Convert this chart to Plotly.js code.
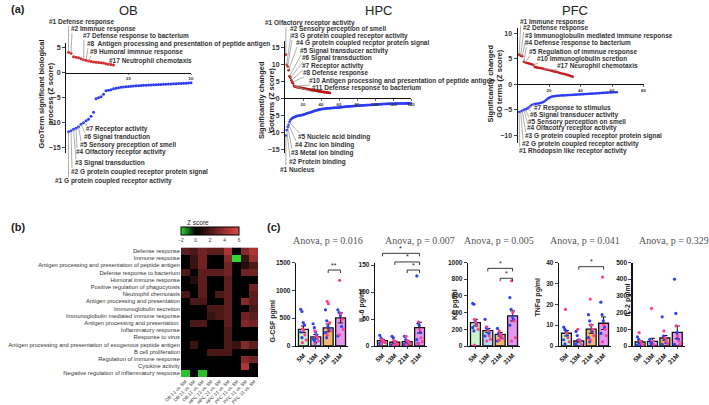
<!DOCTYPE html>
<html><head><meta charset="utf-8">
<script src="https://cdn.plot.ly/plotly-3.0.1.min.js"></script>
<style>body{margin:0;background:#fff}#plot{width:709px;height:405px}</style>
</head><body><div id="plot"></div>
<script>
const F = 'Liberation Sans, Arial, sans-serif';
const W = 709, H = 405;
const X = p => p / W, Y = p => 1 - p / H;

// ---------- Panel (a) data ----------
const obUp = [4.1, 3.9, 3.2, 3.1, 3.0, 2.8, 2.6, 2.5, 2.35, 2.25, 2.15, 2.1, 2.05, 2.0, 1.95, 1.8, 1.7, 1.65, 1.55];
const obDown = [-11.8, -11.6, -11.3, -11.1, -10.8, -10.3, -10.0, -9.6, -9.3, -8.7, -7.9, -5.2, -5.0, -4.8, -4.3, -3.6, -3.5, -3.4, -3.2, -3.1,
  -3.0, -2.9, -2.85, -2.8, -2.75, -2.7, -2.65, -2.6, -2.6, -2.55, -2.5, -2.5, -2.45, -2.45, -2.4, -2.4, -2.35, -2.35, -2.3, -2.3,
  -2.25, -2.25, -2.2, -2.2, -2.15, -2.15, -2.1, -2.1, -2.05, -2.0];
const hpcUp = [12.9, 9.9, 9.4, 8.3, 6.5, 6.1, 5.3, 4.7, 4.4, 3.6, 3.5, 3.4, 3.3, 3.25, 3.2, 3.15, 3.1, 3.05, 3.0, 2.95,
  2.9, 2.85, 2.8, 2.75, 2.7, 2.65, 2.6, 2.55, 2.5, 2.45, 2.4, 2.35, 2.3, 2.25, 2.2, 2.15, 2.1, 2.05, 2.0, 1.97,
  1.94, 1.9, 1.86, 1.82, 1.78, 1.74, 1.7, 1.66, 1.62, 1.58];
const hpcDown = [-11.0, -9.4, -8.5, -7.8, -7.0, -6.4, -6.1, -5.9, -5.7, -5.6,
  -5.5, -5.35, -5.25, -5.2, -5.15, -5.1, -5.05, -5.0, -4.95, -4.9,
  -4.8, -4.7, -4.6, -4.5, -4.4, -4.3, -4.25, -4.2, -4.1, -4.0,
  -3.9, -3.8, -3.7, -3.62, -3.55, -3.5, -3.42, -3.35, -3.28, -3.22,
  -3.16, -3.12, -3.1, -3.07, -3.04, -3.01, -2.98, -2.96, -2.94, -2.92,
  -2.9, -2.88, -2.86, -2.84, -2.82, -2.81, -2.8, -2.77, -2.74, -2.71,
  -2.68, -2.65, -2.62, -2.59, -2.56, -2.53, -2.5, -2.47, -2.44, -2.41,
  -2.39, -2.37, -2.35, -2.33, -2.31, -2.3, -2.28, -2.26, -2.24, -2.22,
  -2.2, -2.18, -2.16, -2.14, -2.12, -2.1, -2.08, -2.06, -2.04, -2.02,
  -2.01, -2.0, -1.99, -1.98, -1.97, -1.95, -1.93, -1.91, -1.89, -1.87,
  -1.85, -1.83, -1.81, -1.79, -1.77, -1.75, -1.73, -1.71, -1.7, -1.69,
  -1.68, -1.67, -1.66, -1.65, -1.64, -1.63, -1.62, -1.61, -1.6, -1.6,
  -1.59, -1.58, -1.57, -1.56, -1.56, -1.55, -1.55, -1.54, -1.54, -1.53,
  -1.53, -1.52, -1.52, -1.51, -1.51, -1.5, -1.5, -1.5, -1.49, -1.49];
const pfcUp = [5.8, 5.6, 5.5, 4.4, 4.25, 4.15, 4.1, 4.0, 3.9, 3.8, 3.4, 3.3, 3.25, 3.2, 3.15, 3.1, 3.0, 2.9, 2.85, 2.8,
  2.7, 2.6, 2.5, 2.45, 2.4, 2.3, 2.2, 2.1, 2.05, 2.0, 1.9, 1.8, 1.7, 1.6, 1.5];
const pfcDown = [-5.4, -5.3, -5.15, -5.0, -4.9, -4.75, -4.55, -4.3, -4.05, -3.95, -3.85, -3.8, -3.75, -3.7, -3.6, -3.5, -3.35, -3.1, -2.85, -2.65,
  -2.5, -2.4, -2.35, -2.3, -2.25, -2.22, -2.2, -2.18, -2.16, -2.15, -2.13, -2.11, -2.1, -2.08, -2.06, -2.04, -2.02, -2.0, -1.98, -1.96,
  -1.94, -1.92, -1.9, -1.88, -1.86, -1.84, -1.82, -1.8, -1.78, -1.76, -1.74, -1.72, -1.7, -1.68, -1.66, -1.64, -1.62, -1.6, -1.58, -1.57,
  -1.56, -1.55, -1.54];

const obLabUp = [[1, '#1 Defense response', 47, 22], [2, '#2 Immnue response', 69, 29], [7, '#7 Defense response to bacterium', 81, 36],
  [8, '#8  Antigen processing and presentation of peptide antigen', 85, 44], [9, '#9 Humoral immnue response', 88, 52], [17, '#17 Neutrophil chemotaxis', 107, 61]];
const obLabDown = [[7, '#7 Receptor activity', 84, 129], [6, '#6 Signal tranduction', 82, 137], [5, '#5 Sensory preception of smell', 78, 145],
  [4, '#4 Olfactory receptor activity', 74, 152], [3, '#3 Signal transduction', 73, 163], [2, '#2 G protein coupled receptor protein signal', 69, 172],
  [1, '#1 G protein coupled receptor activity', 53, 181]];
const hpcLabUp = [[1, '#1 Olfactory receptor activity', 263, 23], [2, '#2 Sensory perception of smell', 288, 29], [3, '#3 G protein coupled receptor activity', 289, 36],
  [4, '#4 G protein coupled recptor protein signal', 294, 43], [5, '#5 Signal transducer activity', 298, 51], [6, '#6 Signal transduction', 300, 58],
  [7, '#7 Receptor activity', 300, 66], [8, '#8 Defense response', 301, 73], [10, '#10 Antigen processing and presentation of peptide antigen', 307, 81],
  [11, '#11 Defense response to bacterium', 310, 88]];
const hpcLabDown = [[5, '#5 Nucleic acid binding', 296, 137], [4, '#4 Zinc ion binding', 293, 145], [3, '#3 Metal ion binding', 289, 153],
  [2, '#2 Protein binding', 287, 162], [1, '#1 Nucleus', 278, 169]];
const pfcLabUp = [[1, '#1 Immune response', 517.7, 21.5], [2, '#2 Defense response', 520.7, 27.6], [3, '#3 Immunoglobulin mediated immune response', 522.7, 36],
  [4, '#4 Defense response to bacterium', 523.3, 43.3], [5, '#5 Regulation of immnue response', 526.7, 51.7], [10, '#10 Immunoglobulin scretion', 535, 59],
  [17, '#17 Neurophil chemotaxis', 555, 66]];
const pfcLabDown = [[7, '#7 Response to stimulus', 531.7, 108.3], [6, '#6 Signal transducer activity', 528.3, 115], [5, '#5 Sensory perception on smell', 526, 121.7],
  [4, '#4 Olfacotry receptor activity', 525, 128.3], [3, '#3 G protein coupled receptor protein signal', 522.7, 136], [2, '#2 G protein coupled receptor activity', 520, 144],
  [1, '#1 Rhodopsin like receptor activity', 516.7, 151]];

// ---------- Panel (b) data ----------
const hmRows = ['Defense response', 'Immune response', 'Antigen processing and presentation of peptide antigen', 'Defense response to bacterium',
  'Humoral immune response', 'Positive regulation of phagocytosis', 'Neutrophil chemotaxis', 'Antigen processing and presentation',
  'Immunoglobulin secretion', 'Immunoglobulin mediated immune response', 'Antigen processing and presentation ', 'Inflammatory response',
  'Response to virus', 'Antigen processing and presentation of exogenous peptide antigen', 'B cell proliferation', 'Regulation of immune response',
  'Cytokine activity', 'Negative regulation of inflammatory response'];
const hmCols = ['OB 13 vs. 5M', 'OB 21 vs. 5M', 'OB 31 vs. 5M', 'HPC 13 vs. 5M', 'HPC 21 vs. 5M', 'HPC 31 vs. 5M', 'PFC 13 vs. 5M', 'PFC 21 vs. 5M', 'PFC 31 vs. 5M'];
const hmScaleTicks = [-2, 0, 2, 4, 6];
const hmZ = [
  [2.5, 2.0, 3.0, 2.5, 2.5, 4.5, 0.0, 3.5, 4.5],
  [0.0, 1.5, 3.0, 0.0, 0.0, 3.5, -2.0, 1.5, 4.0],
  [0.0, 1.5, 3.0, 0.0, 0.0, 3.0, 0.0, 1.0, 2.0],
  [2.0, 0.0, 2.5, 2.5, 2.5, 3.0, 0.0, 3.0, 3.0],
  [0.0, 1.0, 2.5, 0.0, 0.0, 2.5, 0.0, 0.0, 0.0],
  [0.0, 0.0, 2.5, 0.0, 0.0, 2.5, 0.0, 0.0, 3.0],
  [2.0, 0.0, 2.5, 0.0, 2.0, 2.5, 0.0, 0.0, 2.5],
  [0.0, 2.0, 2.0, 0.0, 0.0, 2.5, 0.0, 3.5, 2.5],
  [0.0, 0.0, 0.0, 2.0, 2.0, 2.5, 0.0, 0.0, 2.0],
  [0.0, 0.0, 0.0, 1.5, 2.0, 2.5, 0.0, 3.0, 2.5],
  [0.0, 2.0, 2.0, 0.0, 0.0, 2.5, 0.0, 3.5, 3.0],
  [0.0, 0.0, 0.0, 0.0, 0.0, 2.0, 0.0, 0.0, 0.0],
  [0.0, 0.0, 0.0, 0.0, 0.0, 2.0, 0.0, 0.0, 0.0],
  [0.0, 1.5, 0.0, 0.0, 0.0, 2.0, 1.5, 3.5, 2.5],
  [0.0, 0.0, 0.0, 2.0, 2.0, 2.0, 0.0, 0.0, 0.0],
  [0.0, 0.0, 0.0, 0.0, 0.0, 0.0, 0.0, 3.5, 3.0],
  [0.0, 0.0, 0.0, 0.0, 0.0, 0.0, 0.0, 4.5, 0.0],
  [-1.8, 0.0, -1.8, 0.0, 0.0, 0.0, 0.0, 0.0, 0.0]
];

// ---------- Panel (c) data ----------
const groups = ['5M', '13M', '21M', '31M'];
const gcsfMean = [300, 165, 325, 505], gcsfSem = [60, 40, 70, 90];
const gcsfBlue = [[660, 620, 420, 380, 250, 150], [400, 330, 250, 200, 130, 100, 60], [650, 450, 350, 300, 240, 150], [650, 600, 550, 350, 180]];
const gcsfPink = [[310, 280, 200, 110, 60], [270, 180, 150, 90, 40], [800, 760, 420, 280, 200], [1180, 580, 480, 300, 200]];
const il6Mean = [10, 7, 8, 34], il6Sem = [2.5, 2, 2, 10];
const il6Blue = [[20, 15, 12, 8, 5, 3], [18, 15, 8, 5, 2], [18, 12, 8, 5, 3], [130, 42, 38, 25, 12, 5]];
const il6Pink = [[12, 10, 8, 6, 4], [10, 7, 5, 3, 1], [18, 10, 8, 5, 2], [45, 30, 15, 8, 4]];
const kcMean = [280, 185, 140, 360], kcSem = [40, 25, 20, 60];
const kcBlue = [[510, 500, 300, 260, 220, 180], [320, 220, 200, 150, 120], [210, 150, 130, 100, 60], [580, 440, 350, 320, 250]];
const kcPink = [[320, 280, 240, 200, 10], [230, 180, 120, 80, 60], [180, 140, 120, 90, 70], [780, 400, 300, 100, 60]];
const tnfMean = [6.1, 2.4, 8.1, 10.9], tnfSem = [1.3, 0.6, 2.0, 3.0];
const tnfBlue = [[9, 8, 7, 5, 3, 1], [7, 5, 3, 2, 1], [15, 12, 10, 7, 4, 2], [21, 15, 12, 9, 6]];
const tnfPink = [[17.5, 6, 4, 2], [8, 3, 2, 0.5], [22.5, 10, 8, 5, 3], [33, 10, 8, 5, 2]];
const il2Mean = [24, 28, 48, 82], il2Sem = [8, 18, 15, 38];
const il2Blue = [[55, 40, 20, 10, 5], [40, 20, 10, 5], [175, 60, 40, 20, 10], [400, 195, 80, 40, 10]];
const il2Pink = [[80, 30, 15, 8], [225, 30, 10], [90, 50, 30, 15], [120, 60, 30, 10]];

// ---------- build ----------
const data = [], shapes = [], annotations = [];
const layout = {
  width: W, height: H, margin: {l: 0, r: 0, t: 0, b: 0}, paper_bgcolor: '#fff', plot_bgcolor: 'rgba(0,0,0,0)',
  showlegend: false, font: {family: F, color: '#222'}
};
function txt(t, px, py, size, opts) {
  annotations.push(Object.assign({text: t, x: X(px), y: Y(py), xref: 'paper', yref: 'paper', showarrow: false,
    xanchor: 'center', yanchor: 'middle', font: {family: F, size: size, color: '#222'}}, opts || {}));
}

const aPlots = [
  {id: '', up: obUp, down: obDown, labUp: obLabUp, labDown: obLabDown, x0: 66, x1: 191, xr: [0, 50], yTop: 42.7, yBot: 152.7, yr: [-16, 6],
    xt: [25, 50], yt: [-15, -10, -5, 0, 5], red: '#d42a2a', ms: 3},
  {id: '2', up: hpcUp, down: hpcDown, labUp: hpcLabUp, labDown: hpcLabDown, x0: 285, x1: 411, xr: [0, 140], yTop: 40.7, yBot: 152.5, yr: [-16, 17],
    xt: [20, 40, 60, 80, 100, 120, 140], yt: [-15, -10, -5, 0, 5, 10, 15], red: '#b81414', ms: 2.6},
  {id: '3', up: pfcUp, down: pfcDown, labUp: pfcLabUp, labDown: pfcLabDown, x0: 517.5, x1: 643.5, xr: [0, 80], yTop: 28, yBot: 143.2, yr: [-11.5, 11],
    xt: [20, 40, 60, 80], yt: [-10, -5, 0, 5, 10], red: '#c41c1c', ms: 2.6}
];
aPlots.forEach(p => {
  const zeroPy = p.yBot - (0 - p.yr[0]) / (p.yr[1] - p.yr[0]) * (p.yBot - p.yTop);
  const xa = 'xaxis' + p.id, ya = 'yaxis' + p.id;
  layout[xa] = {domain: [X(p.x0), X(p.x1)], range: p.xr, anchor: 'free', position: Y(zeroPy), showline: true, linecolor: '#111', linewidth: 1,
    ticks: 'outside', ticklen: 1.5, tickwidth: 0.8, tickvals: p.xt, tickfont: {family: F, size: 4.3, color: '#333', weight: 'bold'},
    showgrid: false, zeroline: false, fixedrange: true};
  layout[ya] = {domain: [Y(p.yBot), Y(p.yTop)], range: p.yr, anchor: 'x' + p.id, showline: true, linecolor: '#111', linewidth: 1,
    ticks: 'outside', ticklen: 3, tickwidth: 1, tickvals: p.yt, tickfont: {family: F, size: 7, color: '#333', weight: 'bold'},
    showgrid: false, zeroline: false, fixedrange: true};
  const xs = arr => arr.map((v, i) => i + 1);
  data.push({type: 'scatter', mode: 'markers', x: xs(p.up), y: p.up, xaxis: 'x' + p.id, yaxis: 'y' + p.id,
    marker: {color: p.red, size: p.ms}, cliponaxis: false});
  data.push({type: 'scatter', mode: 'markers', x: xs(p.down), y: p.down, xaxis: 'x' + p.id, yaxis: 'y' + p.id,
    marker: {color: '#2b3cf2', size: p.ms}, cliponaxis: false});
  const toPx = k => p.x0 + (k - p.xr[0]) / (p.xr[1] - p.xr[0]) * (p.x1 - p.x0);
  const toPy = v => p.yBot - (v - p.yr[0]) / (p.yr[1] - p.yr[0]) * (p.yBot - p.yTop);
  const addLab = (l, arr, up) => {
    const k = l[0], v = arr[k - 1];
    const ppx = toPx(k), ppy = toPy(v);
    const ex = Math.max(l[2] + 3, ppx), ey = up ? l[3] + 4 : l[3] - 4;
    shapes.push({type: 'line', xref: 'paper', yref: 'paper', x0: X(ppx), y0: Y(ppy), x1: X(ex), y1: Y(ey),
      line: {color: '#9c9c9c', width: 0.8}});
    txt(l[1], l[2], l[3], 6.5, {xanchor: 'left', font: {family: F, size: 6.5, color: '#333', weight: 'bold'}});
  };
  p.labUp.forEach(l => addLab(l, p.up, true));
  p.labDown.forEach(l => addLab(l, p.down, false));
});
txt('(a)', 18, 9, 11, {font: {family: F, size: 11, color: '#222', weight: 'bold'}});
txt('OB', 128, 11, 13);
txt('HPC', 379, 10, 13);
txt('PFC', 575, 10, 13);
const yTitleFont = {family: F, size: 7.5, color: '#222', weight: 'bold'};
txt('GeoTerm significant biological<br>process (Z score)', 46.5, 94, 7.5, {textangle: -90, font: yTitleFont});
txt('Significantly changed<br>Goterms (Z score)', 266, 100, 7.5, {textangle: -90, font: yTitleFont});
txt('Significantly changed<br>GO terms (Z score)', 495.5, 84, 7.5, {textangle: -90, font: yTitleFont});

// ---------- (b) heatmap ----------
data.push({type: 'heatmap', z: hmZ, x: hmCols.map((c, i) => i), y: hmRows.map((r, i) => i), xaxis: 'x4', yaxis: 'y4',
  zmin: -2, zmax: 6, colorscale: [[0, '#2fd82f'], [0.25, '#000000'], [1, '#e24646']],
  colorbar: {orientation: 'h', x: X(210), xanchor: 'center', y: Y(226.5), yanchor: 'top', thickness: 8, thicknessmode: 'pixels',
    len: 58, lenmode: 'pixels', outlinewidth: 1, outlinecolor: '#000', tickvals: hmScaleTicks, ticks: '',
    tickfont: {family: F, size: 4.8, color: '#333'}, xpad: 0, ypad: 0}});
txt('Z score', 185, 222, 6.5, {xanchor: 'left', font: {family: F, size: 6.5, color: '#222'}});
layout.xaxis4 = {domain: [X(181), X(258.4)], range: [-0.5, 8.5], anchor: 'y4', tickvals: hmCols.map((c, i) => i), ticktext: hmCols,
  tickangle: -45, tickfont: {family: F, size: 4.7, color: '#333'}, ticks: '', showline: false, showgrid: false, zeroline: false, fixedrange: true};
layout.yaxis4 = {domain: [Y(377), Y(247.4)], range: [17.5, -0.5], anchor: 'x4', tickvals: hmRows.map((r, i) => i), ticktext: hmRows,
  tickfont: {family: F, size: 5.8, color: '#333'}, ticks: '', showline: false, showgrid: false, zeroline: false, fixedrange: true};
txt('(b)', 18, 227, 11, {font: {family: F, size: 11, color: '#222', weight: 'bold'}});

// ---------- (c) bar charts ----------
txt('(c)', 274, 227, 11, {font: {family: F, size: 11, color: '#222', weight: 'bold'}});
const barColors = ['#caf5ca', '#b3d8f5', '#f6b46f', '#e399f1'];
const charts = [
  {n: 5, lab: 'G-CSF pg/ml', title: 'Anova, p = 0.016', mean: gcsfMean, sem: gcsfSem, blue: gcsfBlue, pink: gcsfPink, yr: [0, 1500],
    yt: [0, 500, 1000, 1500], x0: 296, tX: 328, lX: 272.5, lY: 322, br: [[2, 3, 1365, '**']]},
  {n: 6, lab: 'IL-6 pg/ml', title: 'Anova, p = 0.007', mean: il6Mean, sem: il6Sem, blue: il6Blue, pink: il6Pink, yr: [0, 155],
    yt: [0, 50, 100, 150], x0: 375, tX: 420, lX: 362, lY: 306, br: [[0, 3, 172, '*'], [1, 3, 156, '*'], [2, 3, 141, '*']]},
  {n: 7, lab: 'KC pg/ml', title: 'Anova, p = 0.005', mean: kcMean, sem: kcSem, blue: kcBlue, pink: kcPink, yr: [0, 1000],
    yt: [0, 200, 400, 600, 800, 1000], x0: 468, tX: 498.5, lX: 455, lY: 305, br: [[1, 3, 930, '*'], [2, 3, 811, '*']]},
  {n: 8, lab: 'TNFα pg/ml', title: 'Anova, p = 0.041', mean: tnfMean, sem: tnfSem, blue: tnfBlue, pink: tnfPink, yr: [0, 40],
    yt: [0, 10, 20, 30, 40], x0: 559, tX: 585, lX: 537.5, lY: 297, br: [[1, 3, 38, '*']]},
  {n: 9, lab: 'IL-2 pg/ml', title: 'Anova, p = 0.329', mean: il2Mean, sem: il2Sem, blue: il2Blue, pink: il2Pink, yr: [0, 500],
    yt: [0, 100, 200, 300, 400, 500], x0: 632.7, tX: 673.5, lX: 627.5, lY: 300, br: []}
];
const cTop = 262.5, cBot = 346, cW = 52;
charts.forEach(c => {
  const xa = 'x' + c.n, ya = 'y' + c.n;
  layout['xaxis' + c.n] = {domain: [X(c.x0), X(c.x0 + cW)], range: [-0.6, 3.6], anchor: ya, showline: true, linecolor: '#111', linewidth: 1.3,
    tickvals: [0, 1, 2, 3], ticktext: groups, tickangle: -45, ticks: 'outside', ticklen: 2, tickwidth: 1,
    tickfont: {family: F, size: 6.5, color: '#222', weight: 'bold'}, showgrid: false, zeroline: false, fixedrange: true};
  layout['yaxis' + c.n] = {domain: [Y(cBot), Y(cTop)], range: c.yr, anchor: xa, showline: true, linecolor: '#111', linewidth: 1.3,
    tickvals: c.yt, ticks: 'outside', ticklen: 3, tickwidth: 1, tickfont: {family: F, size: 6.5, color: '#222', weight: 'bold'},
    showgrid: false, zeroline: false, fixedrange: true};
  data.push({type: 'bar', x: [0, 1, 2, 3], y: c.mean, width: 0.8, xaxis: xa, yaxis: ya,
    marker: {color: barColors, line: {color: '#111', width: 1.3}},
    error_y: {type: 'data', array: c.sem, visible: true, color: '#111', thickness: 1, width: 2.5}});
  const dots = (sets, side, color) => {
    const xs = [], ys = [];
    sets.forEach((arr, g) => arr.forEach((v, i) => { xs.push(g + side * 0.07 + ((i % 4) - 1.5) * 0.1); ys.push(v); }));
    data.push({type: 'scatter', mode: 'markers', x: xs, y: ys, xaxis: xa, yaxis: ya, cliponaxis: false,
      marker: {color: color, size: 3.2}});
  };
  dots(c.blue, -1, '#2f3ff4');
  dots(c.pink, 1, '#ff3f8e');
  const toPy = v => cBot - (v - c.yr[0]) / (c.yr[1] - c.yr[0]) * (cBot - cTop);
  c.br.forEach(b => {
    const py = toPy(b[2]);
    shapes.push({type: 'path', xref: xa, yref: 'paper',
      path: `M ${b[0]},${Y(py + 3)} L ${b[0]},${Y(py)} L ${b[1]},${Y(py)} L ${b[1]},${Y(py + 3)}`, line: {color: '#222', width: 0.9}});
    annotations.push({text: b[3], x: (b[0] + b[1]) / 2, xref: xa, y: Y(py + 0.5), yref: 'paper', yanchor: 'bottom', showarrow: false,
      font: {family: F, size: 7, color: '#222'}});
  });
  txt(c.title, c.tX, 240.5, 10, {font: {family: 'Liberation Serif, Times New Roman, serif', size: 10, color: '#555'}});
  txt(c.lab, c.lX, c.lY, 7, {textangle: -90, font: {family: F, size: 7, color: '#222', weight: 'bold'}});
});

layout.shapes = shapes;
layout.annotations = annotations;
Plotly.newPlot('plot', data, layout, {staticPlot: true, displayModeBar: false});
</script></body></html>
